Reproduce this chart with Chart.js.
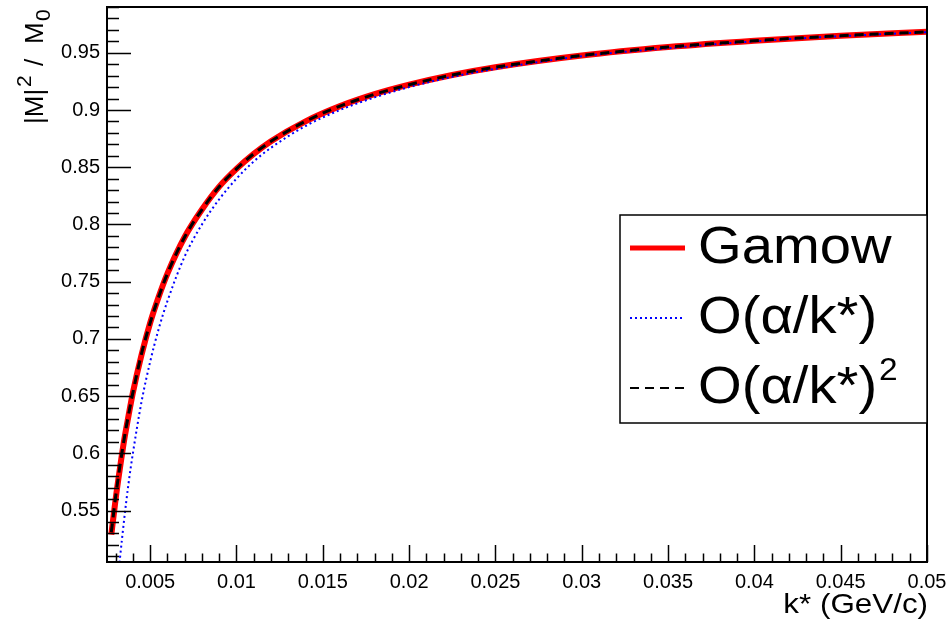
<!DOCTYPE html>
<html>
<head>
<meta charset="utf-8">
<script src="https://cdn.jsdelivr.net/npm/chart.js@4/dist/chart.umd.min.js"></script>
<style>
  html, body { margin: 0; padding: 0; background: #fff; }
  canvas { display: block; }
</style>
</head>
<body>
<canvas id="gamowChart" width="950" height="630"></canvas>
<script>
// k* values (GeV/c) and |M|^2/M0
const kStar = [0.00275, 0.003, 0.00325, 0.0035, 0.00375, 0.004, 0.0045, 0.005, 0.0055, 0.006,
  0.007, 0.008, 0.009, 0.010, 0.011, 0.012, 0.014, 0.016, 0.018, 0.020, 0.0225, 0.025,
  0.030, 0.035, 0.040, 0.045, 0.050];
const gamow = [0.529, 0.560, 0.587, 0.612, 0.633, 0.653, 0.686, 0.714, 0.737, 0.757,
  0.789, 0.813, 0.833, 0.8485, 0.8616, 0.8727, 0.8901, 0.9034, 0.9138, 0.9221, 0.9306, 0.9374,
  0.9476, 0.9550, 0.9605, 0.9649, 0.9683];
const secondOrder = [0.531, 0.562, 0.589, 0.613, 0.634, 0.653, 0.687, 0.714, 0.737, 0.757,
  0.789, 0.813, 0.833, 0.8485, 0.8617, 0.8726, 0.8901, 0.9034, 0.9137, 0.9221, 0.9306, 0.9374,
  0.9476, 0.9550, 0.9605, 0.9649, 0.9683];

const kStarFirst = [0.0032, 0.00325, 0.0035, 0.00375, 0.004, 0.0045, 0.005, 0.0055, 0.006,
  0.007, 0.008, 0.009, 0.010, 0.011, 0.012, 0.014, 0.016, 0.018, 0.020, 0.0225, 0.025,
  0.030, 0.035, 0.040, 0.045, 0.050];
const firstOrder = [0.500, 0.508, 0.543, 0.574, 0.600, 0.645, 0.680, 0.709, 0.733,
  0.772, 0.800, 0.822, 0.840, 0.855, 0.867, 0.886, 0.900, 0.911, 0.920, 0.929, 0.936,
  0.947, 0.954, 0.960, 0.9645, 0.968];

const xTicks = [0.005, 0.01, 0.015, 0.02, 0.025, 0.03, 0.035, 0.04, 0.045, 0.05];
const yTicks = [0.55, 0.6, 0.65, 0.7, 0.75, 0.8, 0.85, 0.9, 0.95];

const toPoints = (xs, ys) => xs.map((x, i) => ({ x: x, y: ys[i] }));
const fmt = v => String(+v.toFixed(4));
const FONT = '"Liberation Sans", Arial, sans-serif';

// stretched text, the ROOT fonts come out a bit wider than Liberation Sans
function wideText(ctx, str, x, y, sx) {
  ctx.save();
  ctx.translate(x, y);
  ctx.scale(sx, 1);
  ctx.fillText(str, 0, 0);
  ctx.restore();
  return ctx.measureText(str).width * sx;
}

// inward ticks, frame, legend and axis titles in ROOT style
const rootStyle = {
  id: 'rootStyle',
  afterDraw(chart) {
    const { ctx, chartArea: a, scales } = chart;
    const xs = scales.x, ys = scales.y;
    ctx.save();
    ctx.strokeStyle = '#000';
    ctx.lineWidth = 1.5;
    ctx.beginPath();
    for (let i = 51; i <= 99; i++) {
      const py = Math.round(ys.getPixelForValue(i / 100)) + 0.5;
      const len = i % 5 === 0 ? 24 : 12;
      ctx.moveTo(a.left, py);
      ctx.lineTo(a.left + len, py);
    }
    for (let i = 3; i <= 50; i++) {
      const px = Math.round(xs.getPixelForValue(i / 1000)) + 0.5;
      const len = i % 5 === 0 ? 17 : 8.5;
      ctx.moveTo(px, a.bottom);
      ctx.lineTo(px, a.bottom - len);
    }
    ctx.stroke();
    ctx.lineWidth = 2;
    ctx.strokeRect(a.left, a.top, a.right - a.left, a.bottom - a.top);

    // legend
    ctx.fillStyle = '#fff';
    ctx.fillRect(620, 215, 307, 208);
    ctx.lineWidth = 1.5;
    ctx.strokeRect(620, 215, 307, 208);
    const baselines = [263, 333, 403];
    ctx.textBaseline = 'alphabetic';
    ctx.textAlign = 'left';
    chart.data.datasets.forEach((ds, row) => {
      const by = baselines[row];
      ctx.save();
      ctx.strokeStyle = ds.borderColor;
      ctx.lineWidth = row === 0 ? 5 : 2;
      ctx.setLineDash(ds.borderDash || []);
      ctx.beginPath();
      ctx.moveTo(630, by - 15);
      ctx.lineTo(685, by - 15);
      ctx.stroke();
      ctx.restore();
      ctx.fillStyle = '#000';
      let label = ds.label;
      const sup = label.endsWith('²');
      if (sup) label = label.slice(0, -1);
      ctx.font = '52px ' + FONT;
      const w = wideText(ctx, label, 698, by, 1.08);
      if (sup) {
        ctx.font = '31px ' + FONT;
        wideText(ctx, '2', 698 + w + 2, by - 23, 1.08);
      }
    });

    // x title
    ctx.fillStyle = '#000';
    ctx.font = '28px ' + FONT;
    const xt = 'k* (GeV/c)';
    const xw = ctx.measureText(xt).width * 1.12;
    wideText(ctx, xt, a.right + 1 - xw, 613, 1.12);

    // y title, rotated: |M|^2 / M_0
    ctx.save();
    ctx.translate(43, 124);
    ctx.rotate(-Math.PI / 2);
    ctx.font = '26px ' + FONT;
    wideText(ctx, '|M|', 0, 0, 1.0);
    ctx.font = '21px ' + FONT;
    wideText(ctx, '2', 37, -12, 1.0);
    ctx.font = '26px ' + FONT;
    wideText(ctx, '/', 58, 0, 1.0);
    wideText(ctx, 'M', 80, 0, 1.0);
    ctx.font = '21px ' + FONT;
    wideText(ctx, '0', 103, 7, 1.0);
    ctx.restore();

    ctx.restore();
  }
};

const ctx = document.getElementById('gamowChart').getContext('2d');
const gamowChart = new Chart(ctx, {
  type: 'line',
  data: {
    datasets: [{
      label: 'Gamow',
      data: toPoints(kStar, gamow),
      borderColor: '#ff0000',
      borderWidth: 6,
      order: 2
    }, {
      label: 'O(α/k*)',
      data: toPoints(kStarFirst, firstOrder),
      borderColor: '#0000ff',
      borderWidth: 2,
      borderDash: [2, 3],
      order: 1
    }, {
      label: 'O(α/k*)²',
      data: toPoints(kStar, secondOrder),
      borderColor: '#000000',
      borderWidth: 3,
      borderDash: [9, 6],
      order: 0
    }]
  },
  options: {
    responsive: false,
    animation: false,
    devicePixelRatio: 1,
    layout: { padding: { left: 0, top: 7, right: 23, bottom: 0 } },
    elements: {
      point: { radius: 0 },
      line: { cubicInterpolationMode: 'monotone', fill: false }
    },
    plugins: {
      legend: { display: false },
      tooltip: { enabled: false }
    },
    scales: {
      x: {
        type: 'linear',
        min: 0.0025,
        max: 0.05,
        afterBuildTicks: s => { s.ticks = xTicks.map(v => ({ value: v })); },
        afterFit: s => { s.height = 68; s.paddingLeft = 0; s.paddingRight = 0; },
        grid: { display: false, drawTicks: false },
        border: { display: false },
        ticks: {
          autoSkip: false,
          maxRotation: 0,
          padding: 8,
          color: '#000',
          font: { family: FONT, size: 20 },
          callback: v => fmt(v)
        }
      },
      y: {
        min: 0.505,
        max: 0.99,
        afterBuildTicks: s => { s.ticks = yTicks.map(v => ({ value: v })); },
        afterFit: s => { s.width = 107; s.paddingTop = 0; s.paddingBottom = 0; },
        grid: { display: false, drawTicks: false },
        border: { display: false },
        ticks: {
          padding: 7,
          color: '#000',
          font: { family: FONT, size: 20 },
          callback: v => fmt(v)
        }
      }
    }
  },
  plugins: [rootStyle]
});
</script>
</body>
</html>
